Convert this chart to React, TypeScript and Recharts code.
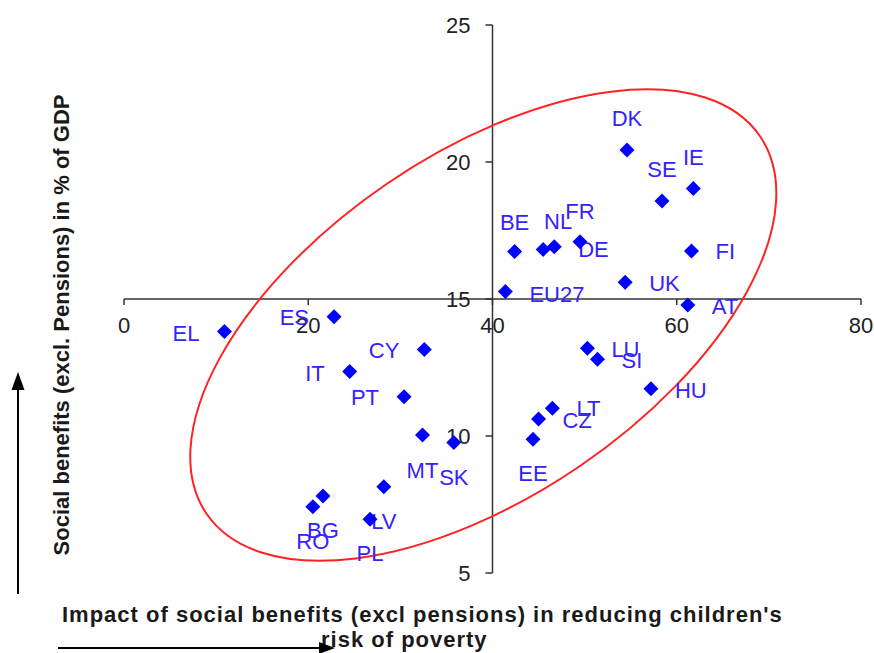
import { ReferenceDot, ReferenceLine, Scatter, ScatterChart, XAxis, YAxis } from "recharts"

const COUNTRIES = [
  "DK", "IE", "SE", "BE", "NL", "DE", "FR", "FI", "UK", "EU27", "AT",
  "ES", "EL", "CY", "IT", "PT", "MT", "SK", "LU", "SI", "HU", "LT",
  "CZ", "EE", "LV", "BG", "RO", "PL",
]
const IMPACT = [
  54.6, 61.8, 58.4, 42.4, 45.5, 46.7, 49.5, 61.6, 54.4, 41.4, 61.2,
  22.8, 10.9, 32.6, 24.5, 30.4, 32.4, 35.8, 50.3, 51.4, 57.2, 46.5,
  45.0, 44.4, 28.2, 21.6, 20.5, 26.7,
]
const BENEFITS = [
  20.44, 19.03, 18.58, 16.73, 16.81, 16.91, 17.09, 16.75, 15.61, 15.27, 14.78,
  14.35, 13.81, 13.16, 12.35, 11.43, 10.04, 9.76, 13.2, 12.8, 11.72, 11.01,
  10.62, 9.88, 8.15, 7.81, 7.42, 6.96,
]

const X_TICKS = [0, 20, 40, 60, 80]
const Y_TICKS = [5, 10, 15, 20, 25]
const AXIS_CROSS = { x: 40, y: 15 }
const ELLIPSE_CENTER = { x: 39.0, y: 14.05 }

const data = COUNTRIES.map((name, i) => ({ name, x: IMPACT[i], y: BENEFITS[i] }))

// where each label sits relative to its marker
const LABEL_POS: Record<string, [string, number, number]> = {
  DK: ["top", 0, 0], IE: ["top", 0, 0], SE: ["top", 0, 0], BE: ["top", 0, 2],
  NL: ["top", 15, 4], FR: ["top", 0, 1], DE: ["right", 0, 2], FI: ["right", 0, 0],
  UK: ["right", 0, 1], EU27: ["right", 0, 2], AT: ["right", 0, 1], ES: ["left", 0, 0],
  EL: ["left", 0, 1], CY: ["left", 0, 1], IT: ["left", 0, 1], PT: ["left", 0, 0],
  MT: ["bottom", 0, 1], SK: ["bottom", 0, 0], LU: ["right", 0, 1], SI: ["right", 0, 1],
  HU: ["right", 0, 1], LT: ["right", 0, 0], CZ: ["right", 0, 1], EE: ["bottom", 0, 0],
  LV: ["bottom", 0, 0], BG: ["bottom", 0, 0], RO: ["bottom", 0, 0], PL: ["bottom", 0, 0],
}

const FONT = "'Liberation Sans', Arial, sans-serif"
const W = 874
const H = 653

function Marker(props: any) {
  const { cx, cy, payload } = props
  const [pos, dx, dy] = LABEL_POS[payload.name] ?? ["right", 0, 0]
  let tx = cx + dx
  let cyText = cy + dy
  let anchor: "start" | "middle" | "end" = "middle"
  if (pos === "top") cyText = cy - 32 + dy
  if (pos === "bottom") cyText = cy + 34 + dy
  if (pos === "right") { tx = cx + 24; anchor = "start" }
  if (pos === "left") { tx = cx - 25; anchor = "end" }
  const r = 7.5
  return (
    <g>
      <polygon
        points={`${cx},${cy - r} ${cx + r},${cy} ${cx},${cy + r} ${cx - r},${cy}`}
        fill="#0000ff"
      />
      <text x={tx} y={cyText + 8} textAnchor={anchor} fontSize={22} fontFamily={FONT} fill="#3322ff">
        {payload.name}
      </text>
    </g>
  )
}

function XTick(props: any) {
  const { cx, cy, label } = props
  return (
    <g>
      <line x1={cx} y1={cy} x2={cx} y2={cy + 6} stroke="#333" strokeWidth={1.5} />
      <text x={cx} y={cy + 34} textAnchor="middle" fontSize={22} fontFamily={FONT} fill="#222">{label}</text>
    </g>
  )
}

function YTick(props: any) {
  const { cx, cy, label } = props
  return (
    <g>
      <line x1={cx - 7} y1={cy} x2={cx} y2={cy} stroke="#333" strokeWidth={1.5} />
      <text x={cx - 22} y={cy + 8} textAnchor="end" fontSize={22} fontFamily={FONT} fill="#222">{label}</text>
    </g>
  )
}

function RingShape(props: any) {
  const { cx, cy } = props
  return (
    <ellipse
      cx={cx}
      cy={cy}
      rx={335}
      ry={171}
      transform={`rotate(-34.3 ${cx} ${cy})`}
      fill="none"
      stroke="#ff2222"
      strokeWidth={2}
    />
  )
}

export default function App() {
  return (
    <div style={{ position: "absolute", left: 0, top: 0, width: W, height: H, background: "#fff" }}>
      <ScatterChart width={W} height={H} margin={{ top: 25, right: 13, left: 124, bottom: 80 }}>
        <XAxis type="number" dataKey="x" domain={[0, 80]} hide />
        <YAxis type="number" dataKey="y" domain={[5, 25]} hide />
        <ReferenceLine y={AXIS_CROSS.y} stroke="#333" strokeWidth={1.5} />
        <ReferenceLine x={AXIS_CROSS.x} stroke="#333" strokeWidth={1.5} />
        {X_TICKS.map((t) => (
          <ReferenceDot key={`x${t}`} x={t} y={AXIS_CROSS.y} r={0} shape={(p: any) => <XTick {...p} label={t} />} />
        ))}
        {Y_TICKS.map((t) => (
          <ReferenceDot key={`y${t}`} x={AXIS_CROSS.x} y={t} r={0} shape={(p: any) => <YTick {...p} label={t} />} />
        ))}
        <ReferenceDot x={ELLIPSE_CENTER.x} y={ELLIPSE_CENTER.y} r={0} shape={RingShape} />
        <Scatter data={data} shape={Marker} isAnimationActive={false} />
      </ScatterChart>
      <svg width={W} height={H} style={{ position: "absolute", left: 0, top: 0, pointerEvents: "none" }}>
        <text
          transform="translate(69 325) rotate(-90)"
          textAnchor="middle"
          fontSize={22}
          fontWeight="bold"
          fontFamily={FONT}
          fill="#1a1a1a"
        >
          Social benefits (excl. Pensions) in % of GDP
        </text>
        <line x1={18} y1={594} x2={18} y2={388} stroke="#000" strokeWidth={2} />
        <polygon points="18,372 11.5,390 24.5,390" fill="#000" />
        <text x={62} y={622} fontSize={22} fontWeight="bold" fontFamily={FONT} letterSpacing={1} fill="#1a1a1a">
          Impact of social benefits (excl pensions) in reducing children's
        </text>
        <text x={321} y={647} fontSize={22} fontWeight="bold" fontFamily={FONT} letterSpacing={1} fill="#1a1a1a">
          risk of poverty
        </text>
        <line x1={58} y1={648} x2={320} y2={648} stroke="#000" strokeWidth={2} />
        <polygon points="335,648 319,642 319,654" fill="#000" />
      </svg>
    </div>
  )
}
